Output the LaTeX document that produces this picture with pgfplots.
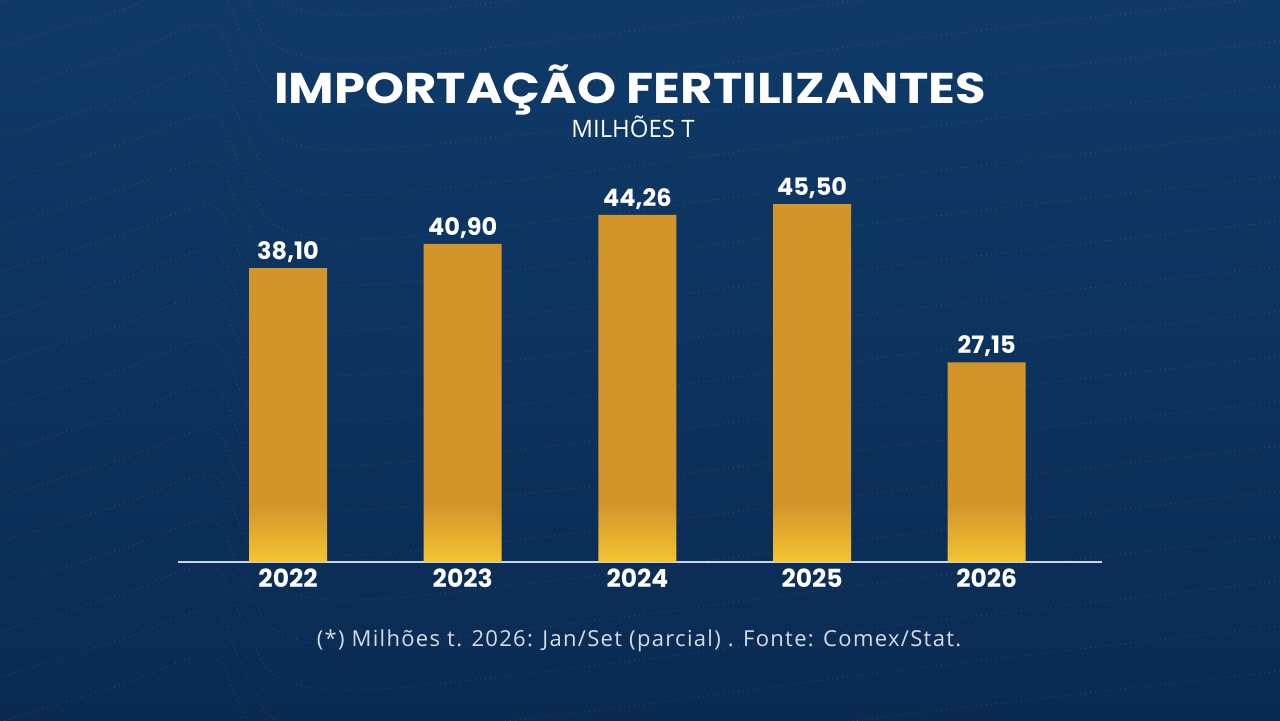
\documentclass[border=0pt]{standalone}
\usepackage{fontspec}
\usepackage{pgfplots}
\pgfplotsset{compat=1.18}
\setmainfont{Open Sans}
\newfontfamily\popfont{Poppins}

\definecolor{bgtop}{HTML}{0F3A68}
\definecolor{bgbot}{HTML}{0A2A52}
\definecolor{barorange}{HTML}{D3952A}
\definecolor{glowyellow}{HTML}{F3C532}
\definecolor{axisline}{HTML}{C9D6EA}
\definecolor{notegray}{HTML}{D5DCE6}

\pgfdeclareverticalshading{barglow}{100bp}{%
  color(0bp)=(glowyellow); color(25bp)=(glowyellow);
  color(33bp)=(barorange); color(100bp)=(barorange)}

\begin{document}
\begin{tikzpicture}
\shade[top color=bgtop, bottom color=bgbot] (0,0) rectangle (640pt,360pt);

% faint contour lines in the background
\begin{scope}[shift={(0,360pt)}, x=0.5pt, y=-0.5pt]
  \clip (0,0) rectangle (1280,720);
  \foreach \Y in {-40,5,...,760} {
    \draw[white, opacity=0.13, line width=0.5pt, dotted]
      plot[smooth] coordinates {(-10,\Y) (120,\Y-40) (210,\Y-70) (240,\Y-20)
        (275,\Y+40) (360,\Y+55) (600,\Y+30) (900,\Y-10) (1290,\Y-55)};
  }
\end{scope}

\node[anchor=base, text=white, inner sep=0pt] at (315pt,308.5pt)
  {\scalebox{1.155}[1]{\popfont\bfseries\fontsize{21.5}{24}\selectfont IMPORTAÇÃO FERTILIZANTES}};
\node[anchor=base, text=white, inner sep=0pt] at (316.5pt,291.5pt)
  {\fontsize{12}{14}\selectfont MILHÕES T};
\node[anchor=base, text=notegray, inner sep=0pt] at (319.5pt,37pt)
  {\fontsize{11}{12}\selectfont\addfontfeature{LetterSpace=6}(*) Milhões t. 2026: Jan/Set (parcial) . Fonte: Comex/Stat.};

\begin{axis}[
    at={(89pt,79pt)}, anchor=south west,
    scale only axis, width=462pt, height=198.3pt,
    xmin=-0.63, xmax=4.66, ymin=4, ymax=50,
    axis x line=bottom, axis y line=none,
    x axis line style={-, draw=axisline, line width=0.8pt},
    xtick=data, xticklabels={2022,2023,2024,2025,2026},
    xtick style={draw=none},
    xticklabel style={font=\popfont\bfseries\fontsize{12.5}{14}\selectfont,
      text=white, inner sep=0pt, yshift=-1pt},
    ytick=\empty]
  \addplot[ybar, bar width=39pt, draw=none, shading=barglow,
    point meta=explicit symbolic, nodes near coords,
    nodes near coords style={font=\popfont\bfseries\fontsize{12}{14}\selectfont,
      text=white, inner sep=0pt, anchor=south, yshift=2.5pt}]
    coordinates {
      (0,38.10) [38,10]
      (1,40.90) [40,90]
      (2,44.26) [44,26]
      (3,45.50) [45,50]
      (4,27.15) [27,15]
    };
\end{axis}
\end{tikzpicture}
\end{document}
